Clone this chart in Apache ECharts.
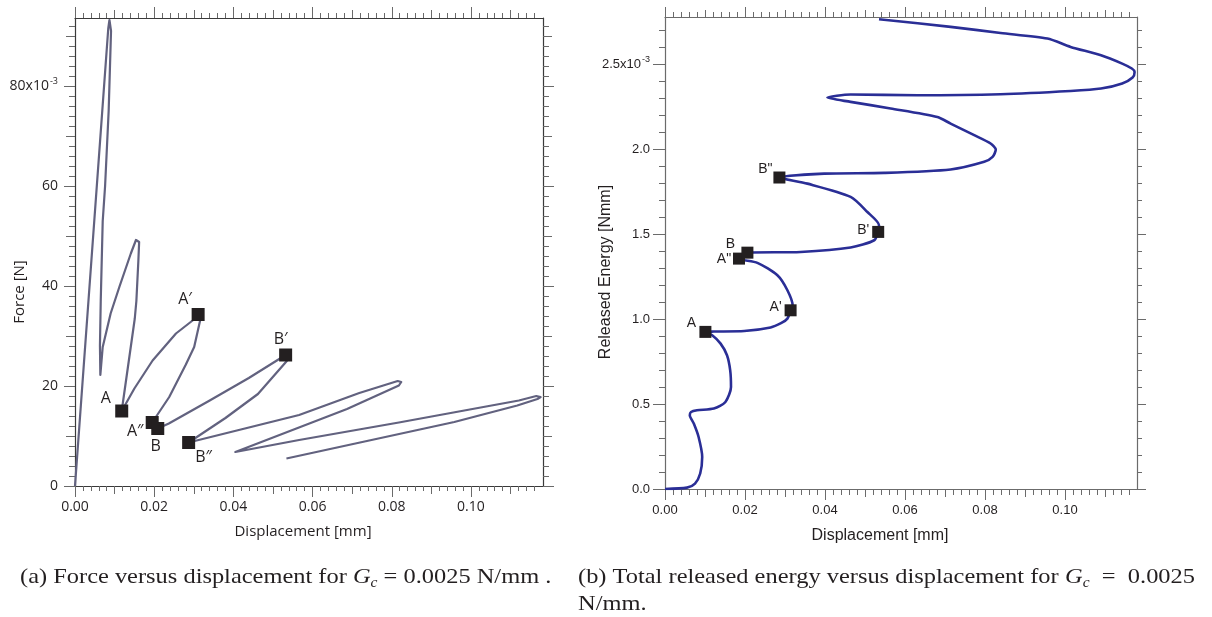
<!DOCTYPE html>
<html><head><meta charset="utf-8">
<script src="https://cdn.jsdelivr.net/npm/echarts@6/dist/echarts.min.js"></script>
<style>html,body{margin:0;padding:0;background:#fff}#c{width:1212px;height:617px}</style>
</head><body><div id="c"></div>
<script>
// ---------- data: (a) force vs displacement ----------
const FORCE_DISP = [0, 0.0084, 0.0087, 0.0090, 0.0091, 0.0085, 0.0076, 0.0070, 0.0065, 0.0063, 0.0064,
  0.0070, 0.0090, 0.0112, 0.0141, 0.0154, 0.0159, 0.0162, 0.0160, 0.0155, 0.0151, 0.0118,
  0.0150, 0.0196, 0.0255, 0.0297, 0.0311, 0.0316, 0.0301, 0.0280, 0.0238, 0.0195, 0.0209,
  0.0237, 0.0338, 0.0439, 0.0532, 0.0535, 0.0462, 0.0380, 0.0287,
  0.0566, 0.0718, 0.0815, 0.0824, 0.0818, 0.0687, 0.0405,
  0.0566, 0.0818, 0.1121, 0.1165, 0.1176, 0.1168, 0.1117, 0.0958, 0.0534];
const FORCE_N = [0, 91.5, 93.2, 92.8, 91.0, 75, 60, 53, 37, 28, 22.2,
  27.8, 34.5, 39.8, 46.5, 49.2, 49.6, 48.8, 45, 37, 33.5, 15.0,
  19.5, 25.1, 30.5, 33.1, 34.3, 33.1, 27.8, 24.3, 17.8, 12.7, 11.5,
  12.5, 17.0, 21.6, 26.2, 25.0, 18.4, 13.6, 8.7,
  14.2, 18.6, 21.0, 20.8, 20.1, 15.4, 6.8,
  9.2, 12.7, 17.1, 18.0, 17.8, 17.4, 16.1, 12.8, 5.5];
const FORCE_MARK_NAMES = ['A', 'A\u2032', 'A\u2033', 'B', 'B\u2032', 'B\u2033'];
const FORCE_MARK_DISP = [0.0118, 0.0311, 0.0195, 0.0209, 0.0532, 0.0287];
const FORCE_MARK_N = [15.0, 34.3, 12.7, 11.5, 26.2, 8.7];
const FORCE_X_TICKS = [0, 0.02, 0.04, 0.06, 0.08, 0.10];
const FORCE_X_LABELS = ['0.00', '0.02', '0.04', '0.06', '0.08', '0.10'];
const FORCE_Y_TICKS = [0, 20, 40, 60, 80];
const FORCE_Y_LABELS = ['0', '20', '40', '60', '80x10{sup|-3}'];

// ---------- data: (b) released energy vs displacement ----------
const ENERGY_DISP = [0, 0.0055, 0.0075, 0.0088, 0.0093, 0.0084, 0.0072, 0.0062, 0.0065, 0.0080, 0.0122,
  0.0151, 0.0165, 0.0163, 0.0155, 0.0139, 0.0118, 0.0101,
  0.0122, 0.0198, 0.0264, 0.0290, 0.0306, 0.0314, 0.0319, 0.0306, 0.0281, 0.0231, 0.0185, 0.0206,
  0.0339, 0.0464, 0.0523, 0.0533, 0.0535, 0.0506, 0.0464, 0.0356, 0.0286,
  0.0398, 0.0548, 0.0714, 0.0798, 0.0819, 0.0827, 0.0814, 0.0773, 0.0714, 0.0681, 0.0564, 0.0464, 0.0406,
  0.0464, 0.0631, 0.0839, 0.1014, 0.1090, 0.1143, 0.1169, 0.1174, 0.1167, 0.1143, 0.1090, 0.1014,
  0.0956, 0.0839, 0.0714, 0.0535];
const ENERGY_NMM = [0, 0.008, 0.032, 0.091, 0.188, 0.306, 0.385, 0.434, 0.453, 0.463, 0.473,
  0.512, 0.600, 0.698, 0.787, 0.855, 0.904, 0.924,
  0.926, 0.929, 0.950, 0.975, 1.002, 1.051, 1.080, 1.169, 1.257, 1.330, 1.355, 1.390,
  1.394, 1.420, 1.463, 1.512, 1.551, 1.629, 1.718, 1.796, 1.832,
  1.855, 1.859, 1.879, 1.924, 1.953, 1.996, 2.032, 2.081, 2.149, 2.188, 2.238, 2.277, 2.302,
  2.320, 2.316, 2.322, 2.341, 2.355, 2.385, 2.420, 2.453, 2.473, 2.502, 2.551, 2.600,
  2.649, 2.682, 2.718, 2.763];
const ENERGY_MARK_NAMES = ['A', "A'", 'A"', 'B', "B'", 'B"'];
const ENERGY_MARK_DISP = [0.0101, 0.0314, 0.0185, 0.0206, 0.0533, 0.0286];
const ENERGY_MARK_NMM = [0.924, 1.051, 1.355, 1.390, 1.512, 1.832];
const ENERGY_X_TICKS = [0, 0.02, 0.04, 0.06, 0.08, 0.10];
const ENERGY_X_LABELS = ['0.00', '0.02', '0.04', '0.06', '0.08', '0.10'];
const ENERGY_Y_TICKS = [0, 0.5, 1.0, 1.5, 2.0, 2.5];
const ENERGY_Y_LABELS = ['0.0', '0.5', '1.0', '1.5', '2.0', '2.5x10{sup|-3}'];

// ---------- styling ----------
const LEFT_FONT = 'Open Sans';
const RIGHT_FONT = 'Liberation Sans';
const FORCE_LABEL_OFFSETS = [[-16, -13], [-13, -15], [-17, 9], [-2, 18], [-5, -16], [15, 15]];
const ENERGY_LABEL_OFFSETS = [[-14, -9], [-15, -3], [-15, 1], [-17, -9], [-15, -2], [-14, -8]];

function range(a, b, step) { const out = []; for (let i = 0; a + i * step <= b + 1e-9; i++) out.push(+(a + i * step).toFixed(6)); return out; }
function labelFor(ticks, labels, v) { let k = 0, d = Infinity; ticks.forEach((t, i) => { if (Math.abs(t - v) < d) { d = Math.abs(t - v); k = i; } }); return labels[k]; }

const G = [
  { left: 75, top: 18, width: 468, height: 468, xmax: 0.1182, ymax: 93.6, lineColor: '#3a3a3a', tickColor: '#6a6a6a', font: LEFT_FONT, fs: 14 },
  { left: 665, top: 17, width: 472, height: 472, xmax: 0.1180, ymax: 2.776, lineColor: '#6b6b6b', tickColor: '#6b6b6b', font: RIGHT_FONT, fs: 13 }
];

function axis(grid, pos, max, values, len, o) {
  o = o || {};
  const g = G[grid];
  const a = {
    type: 'value', gridIndex: grid, position: pos, min: 0, max: max,
    axisLine: { show: !!o.line, onZero: false, lineStyle: { color: g.lineColor, width: 1.2 } },
    axisTick: { show: true, inside: false, length: len, customValues: values, lineStyle: { color: g.tickColor, width: 1 } },
    axisLabel: { show: false },
    splitLine: { show: false }, axisPointer: { show: false }
  };
  if (o.labels) {
    a.axisLabel = {
      show: true, customValues: o.labels.ticks, margin: o.margin || 8,
      formatter: v => labelFor(o.labels.ticks, o.labels.text, v),
      color: '#231f20', fontFamily: g.font, fontSize: g.fs,
      rich: { sup: { fontSize: 9, fontFamily: g.font, color: '#231f20', verticalAlign: 'bottom', padding: [0, 0, 9, 1] } }
    };
  }
  return a;
}

const xAxes = [
  axis(0, 'bottom', G[0].xmax, FORCE_X_TICKS, 11, { line: true, labels: { ticks: FORCE_X_TICKS, text: FORCE_X_LABELS }, margin: 14 }),
  axis(0, 'bottom', G[0].xmax, range(0, 0.116, 0.002), 5),
  axis(0, 'bottom', G[0].xmax, range(0.01, 0.11, 0.02), 8),
  axis(0, 'top', G[0].xmax, FORCE_X_TICKS, 11, { line: true }),
  axis(0, 'top', G[0].xmax, range(0, 0.116, 0.002), 5),
  axis(0, 'top', G[0].xmax, range(0.01, 0.11, 0.02), 8),
  axis(1, 'bottom', G[1].xmax, ENERGY_X_TICKS, 11, { line: true, labels: { ticks: ENERGY_X_TICKS, text: ENERGY_X_LABELS }, margin: 15 }),
  axis(1, 'bottom', G[1].xmax, range(0, 0.116, 0.002), 6),
  axis(1, 'bottom', G[1].xmax, range(0.01, 0.11, 0.02), 8),
  axis(1, 'top', G[1].xmax, ENERGY_X_TICKS, 10, { line: true }),
  axis(1, 'top', G[1].xmax, range(0, 0.116, 0.002), 5),
  axis(1, 'top', G[1].xmax, range(0.01, 0.11, 0.02), 7)
];
const yAxes = [
  axis(0, 'left', G[0].ymax, FORCE_Y_TICKS, 11, { line: true, labels: { ticks: FORCE_Y_TICKS, text: FORCE_Y_LABELS }, margin: 17 }),
  axis(0, 'left', G[0].ymax, range(0, 92, 2), 6),
  axis(0, 'left', G[0].ymax, range(10, 90, 20), 9),
  axis(0, 'right', G[0].ymax, FORCE_Y_TICKS, 11, { line: true }),
  axis(0, 'right', G[0].ymax, range(0, 92, 2), 6),
  axis(0, 'right', G[0].ymax, range(10, 90, 20), 9),
  axis(1, 'left', G[1].ymax, ENERGY_Y_TICKS, 12, { line: true, labels: { ticks: ENERGY_Y_TICKS, text: ENERGY_Y_LABELS }, margin: 15 }),
  axis(1, 'left', G[1].ymax, range(0, 2.7, 0.1), 6),
  axis(1, 'right', G[1].ymax, ENERGY_Y_TICKS, 9, { line: true }),
  axis(1, 'right', G[1].ymax, range(0, 2.7, 0.1), 5)
];

function pairs(xs, ys) { return xs.map((x, i) => [x, ys[i]]); }
function markers(names, xs, ys, offsets, font, size) {
  return names.map((n, i) => ({
    value: [xs[i], ys[i]], name: n,
    label: { show: true, formatter: n, position: 'inside', offset: offsets[i], color: '#231f20', fontFamily: font, fontSize: size }
  }));
}

const CAPTION_FONT = '22px "Liberation Serif"';
const CAPTION_RICH = {
  i: { fontStyle: 'italic', fontFamily: 'Liberation Serif', fontSize: 22 },
  s: { fontStyle: 'italic', fontFamily: 'Liberation Serif', fontSize: 14, verticalAlign: 'top', padding: [13, 0, 0, 0] }
};

const chart = echarts.init(document.getElementById('c'), null, { renderer: 'canvas' });
chart.setOption({
  animation: false,
  backgroundColor: '#ffffff',
  grid: G.map(g => ({ left: g.left, top: g.top, width: g.width, height: g.height, containLabel: false })),
  xAxis: xAxes,
  yAxis: yAxes,
  series: [
    { type: 'line', xAxisIndex: 0, yAxisIndex: 0, data: pairs(FORCE_DISP, FORCE_N), showSymbol: false, symbol: 'none',
      lineStyle: { color: '#62627f', width: 2.2, join: 'round' }, z: 2 },
    { type: 'scatter', xAxisIndex: 0, yAxisIndex: 0, symbol: 'rect', symbolSize: 13, itemStyle: { color: '#231f20', opacity: 1 },
      data: markers(FORCE_MARK_NAMES, FORCE_MARK_DISP, FORCE_MARK_N, FORCE_LABEL_OFFSETS, LEFT_FONT, 16), z: 3 },
    { type: 'line', xAxisIndex: 6, yAxisIndex: 6, data: pairs(ENERGY_DISP, ENERGY_NMM), showSymbol: false, symbol: 'none', smooth: 0.25,
      lineStyle: { color: '#2a2e96', width: 2.6, join: 'round' }, z: 2 },
    { type: 'scatter', xAxisIndex: 6, yAxisIndex: 6, symbol: 'rect', symbolSize: 12, itemStyle: { color: '#231f20', opacity: 1 },
      data: markers(ENERGY_MARK_NAMES, ENERGY_MARK_DISP, ENERGY_MARK_NMM, ENERGY_LABEL_OFFSETS, RIGHT_FONT, 14), z: 3 }
  ],
  graphic: [
    { type: 'text', x: 20, y: 292, rotation: Math.PI / 2, style: { text: 'Force [N]', fill: '#231f20', font: '15px "Open Sans"', align: 'center', verticalAlign: 'middle' } },
    { type: 'text', x: 303, y: 532, style: { text: 'Displacement [mm]', fill: '#231f20', font: '15px "Open Sans"', align: 'center', verticalAlign: 'middle' } },
    { type: 'text', x: 606, y: 272, rotation: Math.PI / 2, style: { text: 'Released Energy [Nmm]', fill: '#231f20', font: '16px "Liberation Sans"', align: 'center', verticalAlign: 'middle' } },
    { type: 'text', x: 880, y: 536, style: { text: 'Displacement [mm]', fill: '#231f20', font: '16px "Liberation Sans"', align: 'center', verticalAlign: 'middle' } },
    { type: 'text', x: 20, y: 577, scaleX: 1.11, style: { text: '(a) Force versus displacement for {i|G}{s|c} = 0.0025 N/mm .', fill: '#231f20', font: CAPTION_FONT, verticalAlign: 'middle', rich: CAPTION_RICH } },
    { type: 'text', x: 578, y: 577, scaleX: 1.11, style: { text: '(b) Total released energy versus displacement for', fill: '#231f20', font: CAPTION_FONT, verticalAlign: 'middle', rich: CAPTION_RICH } },
    { type: 'text', x: 1195, y: 577, scaleX: 1.11, style: { text: '{i|G}{s|c}  =  0.0025', fill: '#231f20', font: CAPTION_FONT, align: 'right', verticalAlign: 'middle', rich: CAPTION_RICH } },
    { type: 'text', x: 578, y: 604, scaleX: 1.11, style: { text: 'N/mm.', fill: '#231f20', font: CAPTION_FONT, verticalAlign: 'middle' } }
  ]
});
</script></body></html>
